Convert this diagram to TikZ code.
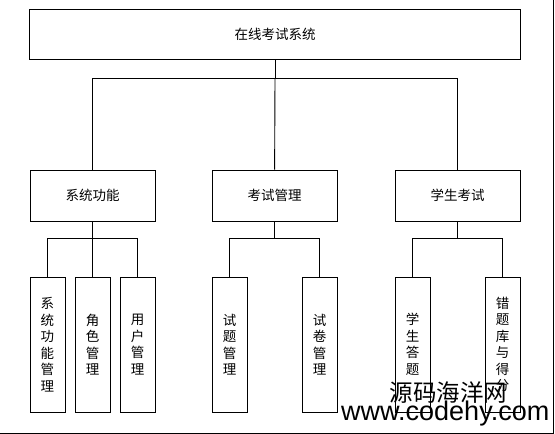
\documentclass[tikz,border=0pt]{standalone}
\usepackage{fontspec}
\newfontfamily\cjk{Noto Sans CJK SC}
\newfontfamily\latin{Liberation Sans}
\usetikzlibrary{positioning}

\tikzset{
  wide/.style={draw, line width=0.9pt, minimum width=125pt, minimum height=51pt,
    font=\cjk\fontsize{13.5}{16.5}\selectfont},
  tall/.style={draw, line width=0.9pt, minimum width=35pt, minimum height=135pt,
    text width=14pt, align=center, inner sep=0pt,
    font=\cjk\fontsize{13.5}{16.5}\selectfont},
  link/.style={line width=0.9pt}
}

\begin{document}
\begin{tikzpicture}[x=1pt, y=-1pt]
  \useasboundingbox (0,0) rectangle (555,434);

  \node (sys) [wide, minimum width=491pt, minimum height=50pt] at (275,34.3) {在线考试系统};

  \node (func) [wide] at (92.5,195.5) {系统功能};
  \node (exam) [wide] at (274.5,195.5) {考试管理};
  \node (stud) [wide] at (457.5,195.5) {学生考试};

  \node (funcmgr) [tall] at (47.5,344.5) {系\\统\\功\\能\\管\\理};
  \node (rolemgr) [tall] at (92.5,344.5) {角\\色\\管\\理};
  \node (usermgr) [tall] at (137.5,344.5) {用\\户\\管\\理};
  \node (qmgr) [tall] at (229.5,344.5) {试\\题\\管\\理};
  \node (papermgr) [tall] at (319.5,344.5) {试\\卷\\管\\理};
  \node (answer) [tall] at (412.5,344.5) {学\\生\\答\\题};
  \node (wrong) [tall] at (502.5,344.5) {错\\题\\库\\与\\得\\分};

  \coordinate (bus) at (275,78.7);
  \coordinate (funcbus) at (92.5,238);
  \coordinate (exambus) at (274.5,238);
  \coordinate (studbus) at (457.5,238);

  \draw[link] (sys) -- (bus);
  \draw[link] (bus) -| (func);
  \draw[link] (bus) -| (stud);
  \draw[link] (bus) -- (exam);

  \draw[link] (func) -- (rolemgr);
  \draw[link] (funcbus) -| (funcmgr);
  \draw[link] (funcbus) -| (usermgr);

  \draw[link] (exam) -- (exambus);
  \draw[link] (exambus) -| (qmgr);
  \draw[link] (exambus) -| (papermgr);

  \draw[link] (stud) -- (studbus);
  \draw[link] (studbus) -| (answer);
  \draw[link] (studbus) -| (wrong);

  % frame of the page
  \draw[line width=0.9pt] (553.5,0) -- (553.5,433.3) -- (0,433.3);

  % watermark
  \node (markcn) [font=\cjk\fontsize{23.5}{26}\selectfont, inner sep=0pt] at (448.5,392.5) {源码海洋网};
  \node (markurl) [font=\latin\fontsize{27}{29}\selectfont, inner sep=0pt, anchor=base west] at (341,420) {www.codehy.com};
\end{tikzpicture}
\end{document}
